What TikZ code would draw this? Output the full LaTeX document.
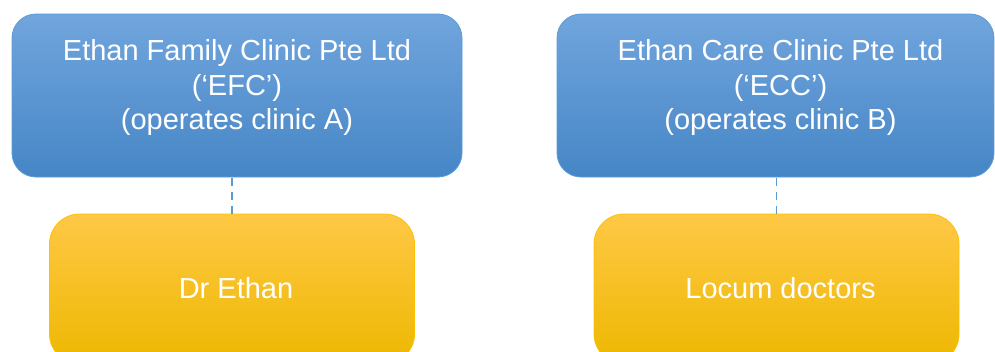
\documentclass[tikz,border=0pt]{standalone}
\usepackage{fontspec}
\setmainfont{Liberation Sans}
\usepackage{tikz}

\definecolor{bluetop}{HTML}{71A5DD}
\definecolor{bluemid}{HTML}{5597D8}
\definecolor{bluebot}{HTML}{4686C6}
\definecolor{blueline}{HTML}{5B9BD5}
\definecolor{goldtop}{HTML}{FFC846}
\definecolor{goldmid}{HTML}{FFC405}
\definecolor{goldbot}{HTML}{EDB800}
\definecolor{goldline}{HTML}{FFC000}

\begin{document}
\begin{tikzpicture}[x=1pt,y=-1pt,
        clinicbox/.style={rectangle,rounded corners=24pt,draw=blueline,line width=0.8pt,
            top color=bluetop,middle color=bluemid,bottom color=bluebot,
            minimum height=163pt},
        doctorbox/.style={rectangle,rounded corners=30pt,draw=goldline,line width=0.8pt,
            top color=goldtop,middle color=goldmid,bottom color=goldbot,
            minimum width=365pt,minimum height=150pt},
        boxtext/.style={text=white,align=center,font=\fontsize{29}{34.5}\selectfont},
        link/.style={draw=blueline,line width=1.5pt,dash pattern=on 8pt off 6pt}]
                \useasboundingbox (0,0) rectangle (995,351);
                % clinics
                \node[clinicbox,minimum width=450pt] (efc) at (237,95.5) {};
                \node[boxtext] (efctext) at ([yshift=8pt]efc.center)
                    {Ethan Family Clinic Pte Ltd\\(‘EFC’)\\(operates clinic A)};
                \node[clinicbox,minimum width=437pt] (ecc) at (775.5,95.5) {};
                \node[boxtext] (ecctext) at ([xshift=5pt,yshift=8pt]ecc.center)
                    {Ethan Care Clinic Pte Ltd\\(‘ECC’)\\(operates clinic B)};
                % doctors
                \node[doctorbox] (drethan) at (232,289) {};
                \node[boxtext] (drethantext) at ([xshift=4pt,yshift=1pt]drethan.center) {Dr Ethan};
                \node[doctorbox] (locum) at (776.5,289) {};
                \node[boxtext] (locumtext) at ([xshift=4pt,yshift=1pt]locum.center) {Locum doctors};
                \draw[link]
                    (drethan.north) -- (drethan.north |- efc.south);
                \draw[link]
                    (locum.north) -- (locum.north |- ecc.south);
            \end{tikzpicture}
\end{document}
